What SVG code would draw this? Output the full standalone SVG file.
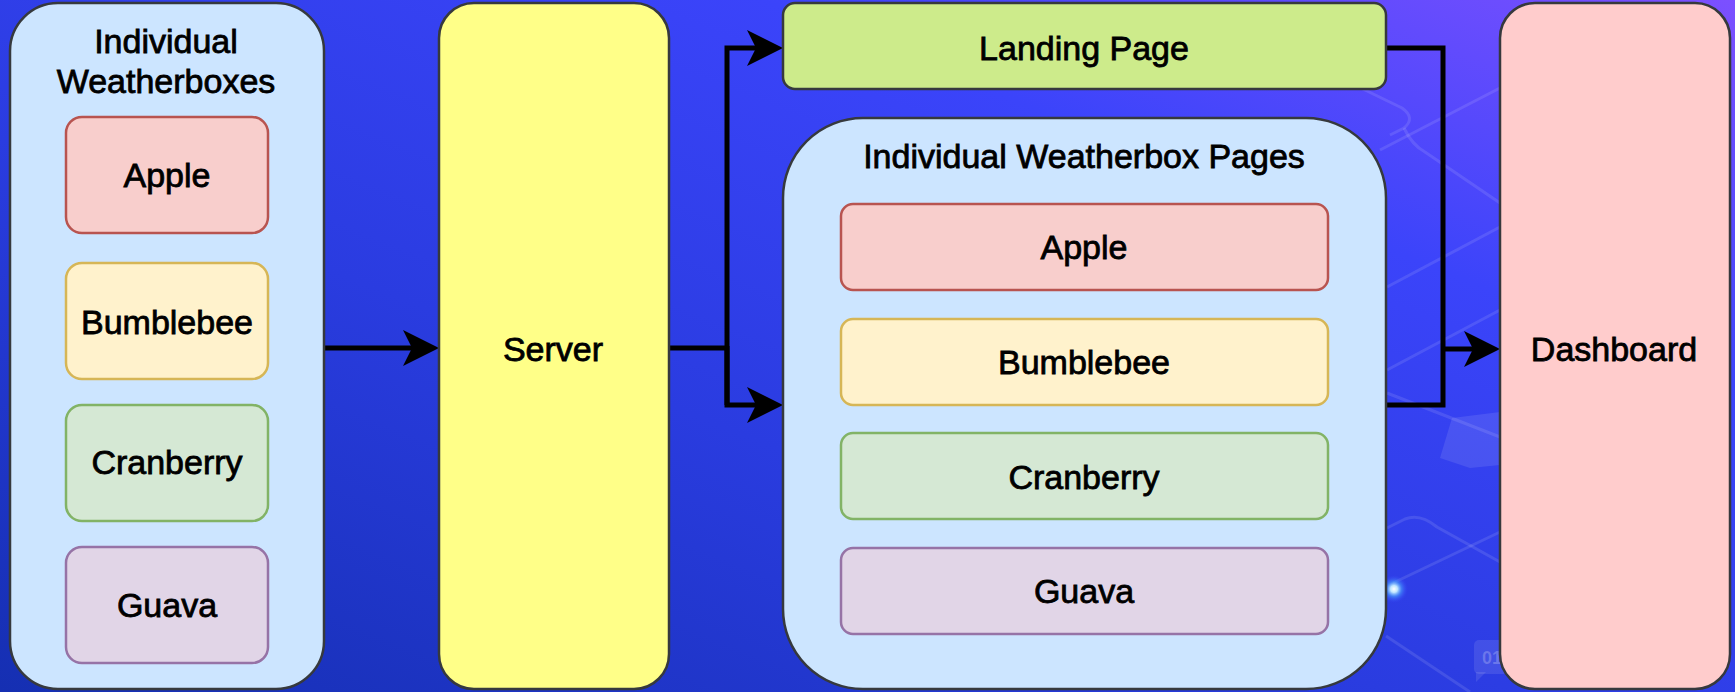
<svg xmlns="http://www.w3.org/2000/svg" width="1735" height="692" viewBox="0 0 1735 692">
  <defs>
    <linearGradient id="bg" x1="0" y1="1" x2="1" y2="0">
      <stop offset="0" stop-color="#152fb2"/>
      <stop offset="0.4" stop-color="#2a3ce0"/>
      <stop offset="0.72" stop-color="#3b44fa"/>
      <stop offset="1" stop-color="#7c50ff"/>
    </linearGradient>
    <radialGradient id="glow" cx="0.5" cy="0.5" r="0.5">
      <stop offset="0" stop-color="#ffffff"/>
      <stop offset="0.25" stop-color="#bfe6ff"/>
      <stop offset="0.55" stop-color="#4aa0ff" stop-opacity="0.6"/>
      <stop offset="1" stop-color="#3a44ff" stop-opacity="0"/>
    </radialGradient>
    <marker id="arrow" viewBox="0 0 36 36" refX="9" refY="18" markerWidth="36" markerHeight="36" markerUnits="userSpaceOnUse" orient="auto">
      <path d="M0,0 L36,18 L0,36 L9,18 Z" fill="#000"/>
    </marker>
    <style>
      .lbl { font-family: "Liberation Sans", Arial, sans-serif; font-size: 34px; fill: #000; stroke: #000; stroke-width: 0.8; text-anchor: middle; }
      .container { fill: #cce5ff; stroke: #36393d; stroke-width: 2.5; }
      .dark { stroke: #36393d; stroke-width: 2.5; }
      .apple { fill: #f8cecc; stroke: #b85450; stroke-width: 2.5; }
      .bee { fill: #fff2cc; stroke: #d6b656; stroke-width: 2.5; }
      .cran { fill: #d5e8d4; stroke: #82b366; stroke-width: 2.5; }
      .guava { fill: #e1d5e7; stroke: #9673a6; stroke-width: 2.5; }
      .conn { fill: none; stroke: #000; stroke-width: 5; }
      .deco { fill: none; stroke: #ffffff; stroke-opacity: 0.11; stroke-width: 3; }
    </style>
  </defs>

  <!-- background -->
  <rect x="0" y="0" width="1735" height="692" fill="url(#bg)"/>
  <g id="background-decoration">
    <path class="deco" d="M1330,73 L1402,108 Q1416,118 1404,128 L1390,135"/>
    <path class="deco" d="M1404,128 Q1412,145 1425,152 L1500,203"/>
    <path class="deco" d="M1380,150 L1500,88"/>
    <path class="deco" d="M1387,287 L1500,227"/>
    <path class="deco" d="M1387,370 L1500,310"/>
    <path class="deco" d="M1387,393 L1500,437"/>
    <path class="deco" d="M1387,528 L1405,519 Q1420,513 1437,527 L1500,562"/>
    <path class="deco" d="M1393,583 L1500,532"/>
    <path class="deco" d="M1386,636 L1470,692"/>
    <path d="M1452,418 L1500,412 L1500,465 L1470,468 L1440,458 Z" fill="#ffffff" fill-opacity="0.1"/>
    <rect x="1474" y="640" width="40" height="34" rx="5" fill="#ffffff" fill-opacity="0.1"/>
    <path d="M1476,672 L1476,682 L1486,672 Z" fill="#ffffff" fill-opacity="0.1"/>
    <text x="1482" y="664" font-family="Liberation Sans, Arial, sans-serif" font-size="18" font-weight="bold" fill="#ffffff" fill-opacity="0.22">01</text>
    <circle cx="1394" cy="589" r="14" fill="url(#glow)"/>
  </g>

  <!-- connectors -->
  <g id="connectors">
    <path class="conn" d="M324,348 L412,348" marker-end="url(#arrow)"/>
    <path class="conn" d="M669,348 L727,348"/>
    <path class="conn" d="M727,405 L727,48 L756,48" marker-end="url(#arrow)"/>
    <path class="conn" d="M727,346 L727,405 L756,405" marker-end="url(#arrow)"/>
    <path class="conn" d="M1386,48 L1443,48 L1443,405 L1386,405"/>
    <path class="conn" d="M1443,349 L1473,349" marker-end="url(#arrow)"/>
  </g>

  <!-- Individual Weatherboxes -->
  <g id="individual-weatherboxes">
    <rect class="container" x="10" y="3" width="314" height="686" rx="48"/>
    <text class="lbl" x="166" y="53">Individual</text>
    <text class="lbl" x="166" y="93">Weatherboxes</text>
  </g>
  <g id="wb-apple">
    <rect class="apple" x="66" y="117" width="202" height="116" rx="16"/>
    <text class="lbl" x="167" y="187">Apple</text>
  </g>
  <g id="wb-bumblebee">
    <rect class="bee" x="66" y="263" width="202" height="116" rx="16"/>
    <text class="lbl" x="167" y="334">Bumblebee</text>
  </g>
  <g id="wb-cranberry">
    <rect class="cran" x="66" y="405" width="202" height="116" rx="16"/>
    <text class="lbl" x="167" y="474">Cranberry</text>
  </g>
  <g id="wb-guava">
    <rect class="guava" x="66" y="547" width="202" height="116" rx="16"/>
    <text class="lbl" x="167" y="617">Guava</text>
  </g>

  <!-- Server -->
  <g id="server">
    <rect class="dark" fill="#ffff88" x="439" y="3" width="230" height="686" rx="35"/>
    <text class="lbl" x="553" y="361">Server</text>
  </g>

  <!-- Landing Page -->
  <g id="landing-page">
    <rect class="dark" fill="#cdeb8b" x="783" y="3" width="603" height="86" rx="12"/>
    <text class="lbl" x="1084" y="60">Landing Page</text>
  </g>

  <!-- Individual Weatherbox Pages -->
  <g id="individual-weatherbox-pages">
    <rect class="container" x="783" y="118" width="603" height="571" rx="80"/>
    <text class="lbl" x="1084" y="168">Individual Weatherbox Pages</text>
  </g>
  <g id="page-apple">
    <rect class="apple" x="841" y="204" width="487" height="86" rx="12"/>
    <text class="lbl" x="1084" y="259">Apple</text>
  </g>
  <g id="page-bumblebee">
    <rect class="bee" x="841" y="319" width="487" height="86" rx="12"/>
    <text class="lbl" x="1084" y="374">Bumblebee</text>
  </g>
  <g id="page-cranberry">
    <rect class="cran" x="841" y="433" width="487" height="86" rx="12"/>
    <text class="lbl" x="1084" y="489">Cranberry</text>
  </g>
  <g id="page-guava">
    <rect class="guava" x="841" y="548" width="487" height="86" rx="12"/>
    <text class="lbl" x="1084" y="603">Guava</text>
  </g>

  <!-- Dashboard -->
  <g id="dashboard">
    <rect class="dark" fill="#ffcccc" x="1500" y="3" width="230" height="686" rx="35"/>
    <text class="lbl" x="1614" y="361">Dashboard</text>
  </g>
</svg>
